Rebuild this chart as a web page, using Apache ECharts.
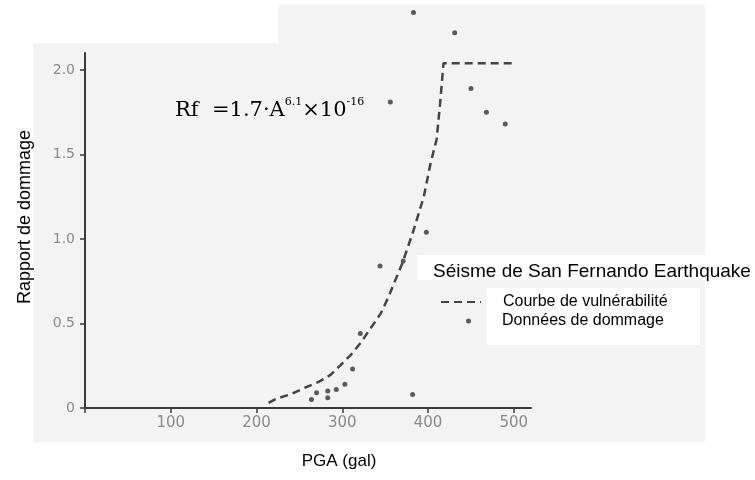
<!DOCTYPE html>
<html>
<head>
<meta charset="utf-8">
<script src="https://cdn.jsdelivr.net/npm/echarts@6/dist/echarts.min.js"></script>
<style>
  html, body { margin: 0; padding: 0; background: #fff; }
  #chart { width: 755px; height: 480px; }
</style>
</head>
<body>
<div id="chart"></div>
<script>
// damage data (PGA in gal, damage ratio)
const damagePga = [264, 270, 283, 283, 293, 303, 312, 321, 344, 371, 382, 398, 356, 383, 431, 450, 468, 490]
const damageRatio = [0.05, 0.09, 0.10, 0.06, 0.11, 0.14, 0.23, 0.44, 0.84, 0.87, 0.08, 1.04, 1.81, 2.34, 2.22, 1.89, 1.75, 1.68]

// vulnerability curve
const curvePga = [214, 224, 240, 255, 273, 286, 298, 310, 321, 333, 345, 354, 370, 383, 395, 403, 410, 414, 418, 502]
const curveRatio = [0.03, 0.057, 0.081, 0.117, 0.156, 0.195, 0.254, 0.314, 0.383, 0.472, 0.56, 0.66, 0.856, 1.05, 1.25, 1.45, 1.59, 1.8, 2.04, 2.04]

const yTicks = [0, 0.5, 1.0, 1.5, 2.0]

const seriesNames = ['Courbe de vulnérabilité', 'Données de dommage']
const chartTitle = 'Séisme de San Fernando Earthquake'
const xAxisTitle = 'PGA (gal)'
const yAxisTitle = 'Rapport de dommage'

const sans = 'Liberation Sans, Arial, sans-serif'
const axisColor = '#3a3a3a'
const labelColor = '#8a8a8a'

const chart = echarts.init(document.getElementById('chart'))

const option = {
  animation: false,
  backgroundColor: '#fff',
  title: {
    text: chartTitle,
    left: 433,
    top: 262,
    padding: 0,
    textStyle: { fontFamily: sans, fontSize: 19, fontWeight: 'normal', color: '#000' },
  },
  legend: [
    {
      data: [seriesNames[0]],
      orient: 'vertical',
      left: 440,
      top: 294,
      padding: 0,
      itemWidth: 40,
      itemHeight: 12,
      itemStyle: { color: 'rgba(0,0,0,0)', borderColor: 'rgba(0,0,0,0)', borderWidth: 0, opacity: 0 },
      lineStyle: { width: 2 },
      textStyle: { fontFamily: sans, fontSize: 16, color: '#000', padding: [0, 0, 0, 17] },
    },
    {
      data: [seriesNames[1]],
      orient: 'vertical',
      left: 466,
      top: 313,
      padding: 0,
      itemWidth: 5,
      itemHeight: 5,
      textStyle: { fontFamily: sans, fontSize: 16, color: '#000', padding: [0, 0, 0, 26] },
    },
  ],
  grid: { left: 85, top: 53, width: 446, height: 355 },
  xAxis: {
    type: 'value',
    min: 0,
    max: 520,
    interval: 100,
    axisLine: { lineStyle: { color: axisColor, width: 2 } },
    axisTick: { length: 5, lineStyle: { color: axisColor, width: 1.5 } },
    splitLine: { show: false },
    axisLabel: {
      margin: 8,
      color: labelColor,
      fontFamily: 'DejaVu Sans',
      fontSize: 15,
      formatter: (v) => (v === 0 ? '' : String(v)),
    },
  },
  yAxis: {
    type: 'value',
    min: 0,
    max: 2.1,
    interval: 0.5,
    axisLine: { lineStyle: { color: axisColor, width: 2 } },
    axisTick: { length: 5, customValues: yTicks, lineStyle: { color: axisColor, width: 1.5 } },
    splitLine: { show: false },
    axisLabel: {
      margin: 10,
      color: labelColor,
      fontFamily: 'DejaVu Sans',
      fontSize: 14,
      customValues: yTicks,
      formatter: (v) => (v === 0 ? '0' : v.toFixed(1)),
    },
  },
  graphic: [
    // scanned page background
    { type: 'rect', z: -10, shape: { x: 33, y: 5, width: 672, height: 437 }, style: { fill: '#f3f3f3' } },
    { type: 'rect', z: -9, shape: { x: 33, y: 5, width: 245, height: 38 }, style: { fill: '#fff' } },
    { type: 'rect', z: -9, shape: { x: 417, y: 255, width: 338, height: 25 }, style: { fill: '#fff' } },
    { type: 'rect', z: -9, shape: { x: 487, y: 288, width: 213, height: 57 }, style: { fill: '#fff' } },
    {
      type: 'text',
      z: 10,
      left: 175,
      top: 97,
      style: {
        text: '{a|Rf  =1.7·A}{s|6.1}{a|×10}{s|-16}',
        rich: {
          a: { fontFamily: 'DejaVu Serif', fontSize: 21, color: '#6a6a6a', lineHeight: 24, verticalAlign: 'bottom' },
          s: { fontFamily: 'DejaVu Serif', fontSize: 11, color: '#6a6a6a', lineHeight: 24, verticalAlign: 'top' },
        },
      },
    },
    {
      type: 'text',
      z: 10,
      x: 25,
      y: 217,
      rotation: Math.PI / 2,
      style: {
        text: yAxisTitle,
        fontFamily: sans,
        fontSize: 18,
        fill: '#000',
        align: 'center',
        verticalAlign: 'middle',
      },
    },
    {
      type: 'text',
      z: 10,
      x: 339,
      y: 461,
      style: {
        text: xAxisTitle,
        fontFamily: sans,
        fontSize: 17,
        fill: '#000',
        align: 'center',
        verticalAlign: 'middle',
      },
    },
  ],
  series: [
    {
      name: seriesNames[0],
      type: 'line',
      symbol: 'none',
      data: curvePga.map((x, i) => [x, curveRatio[i]]),
      lineStyle: { color: '#444', width: 2.5, type: [8, 5] },
      itemStyle: { color: '#444' },
    },
    {
      name: seriesNames[1],
      type: 'scatter',
      clip: false,
      symbolSize: 5,
      data: damagePga.map((x, i) => [x, damageRatio[i]]),
      itemStyle: { color: '#333' },
    },
  ],
}

chart.setOption(option)
</script>
</body>
</html>
